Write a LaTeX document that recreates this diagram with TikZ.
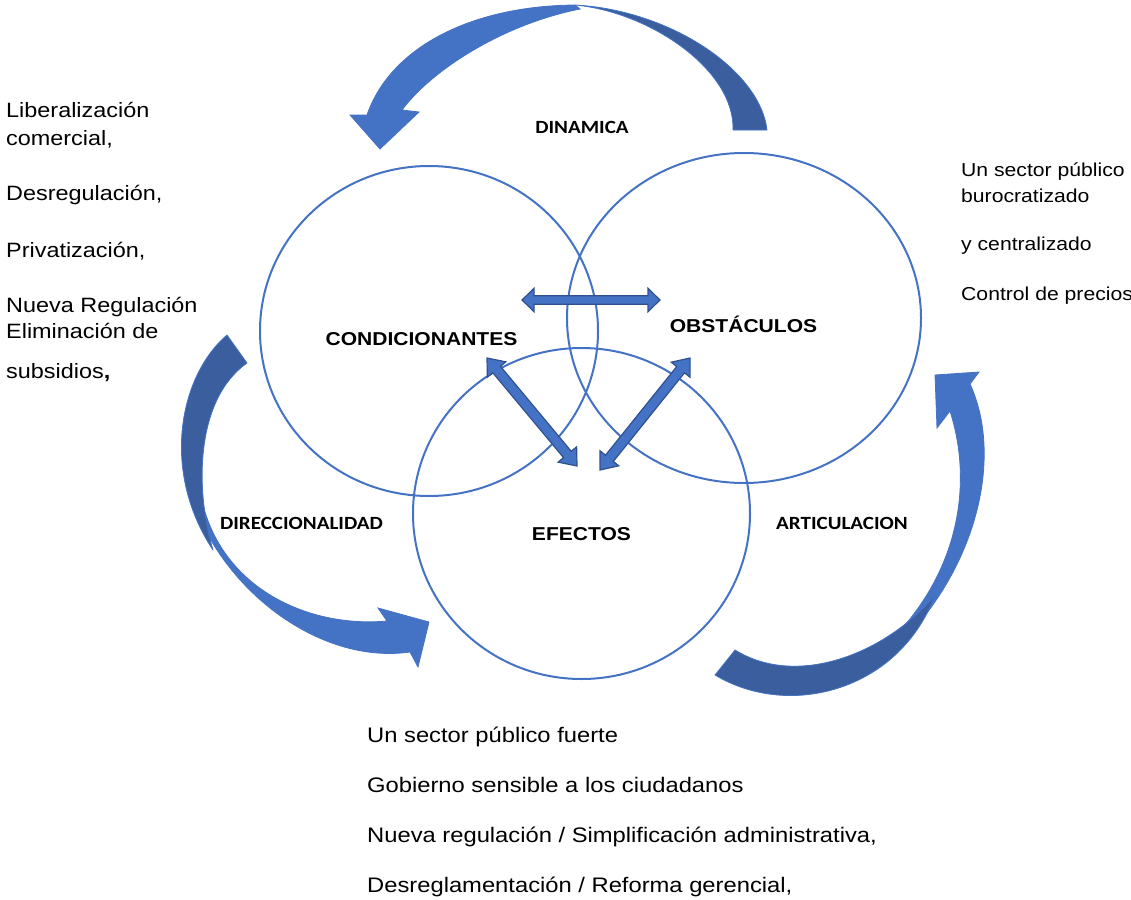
\documentclass[tikz,border=0pt]{standalone}
\usepackage{fontspec}
\setmainfont{Liberation Sans}[FakeStretch=1.13]
\newfontfamily\calib{Carlito}[FakeStretch=1.13]
\usetikzlibrary{calc,shapes.geometric}
\definecolor{mblue}{HTML}{4472C4}
\definecolor{dblue}{HTML}{3A5E9E}
\definecolor{eblue}{HTML}{2F528F}
\newcommand\dblarrow[5]{%
\filldraw[fill=mblue, draw=eblue, line width=1.2bp, line join=miter]
 (#1) -- ($(#1)!#3!(#2)!#5!90:(#2)$) -- ($(#1)!#3!(#2)!#4!90:(#2)$)
 -- ($(#2)!#3!(#1)!#4!-90:(#1)$) -- ($(#2)!#3!(#1)!#5!-90:(#1)$) -- (#2)
 -- ($(#2)!#3!(#1)!#5!90:(#1)$) -- ($(#2)!#3!(#1)!#4!90:(#1)$)
 -- ($(#1)!#3!(#2)!#4!-90:(#2)$) -- ($(#1)!#3!(#2)!#5!-90:(#2)$) -- cycle;}
\tikzset{
  ring/.style={draw=mblue, line width=2bp, ellipse, inner sep=0pt},
  lightarrow/.style={fill=mblue, draw=mblue, line width=0.8bp, line join=miter},
  darkarrow/.style={fill=dblue, draw=mblue, line width=0.8bp, line join=round},
  bigtitle/.style={anchor=base, inner sep=0pt, font=\bfseries\fontsize{18.7}{22}\selectfont},
  flowlabel/.style={anchor=base, inner sep=0pt, font=\calib\bfseries\fontsize{18.7}{22}\selectfont},
  lefttxt/.style={anchor=base west, inner sep=0pt, font=\fontsize{20.8}{25}\selectfont},
  righttxt/.style={anchor=base west, inner sep=0pt, font=\fontsize{18.8}{22}\selectfont},
  bottxt/.style={anchor=base west, inner sep=0pt, font=\fontsize{21.1}{25}\selectfont},
}
\begin{document}
\begin{tikzpicture}[x=1bp,y=-1bp]
\useasboundingbox (0,0) rectangle (1131,900);

% circles
\node[ring, minimum width=338bp, minimum height=330bp] (cond) at (429,331) {};
\node[ring, minimum width=354bp, minimum height=330bp] (obst) at (744,318) {};
\node[ring, minimum width=337bp, minimum height=331bp] (efec) at (581.5,513.5) {};

% top curved arrow (DINAMICA)
\path[lightarrow] (575,5) .. controls (470,6) and (390,48) .. (367,115)
  -- (350,115) -- (380,149) -- (419,112) -- (402,110)
  .. controls (430,72) and (500,25) .. (580,9) -- cycle;
\path[darkarrow] (767,130) .. controls (760,70) and (670,10) .. (575,5)
  .. controls (650,12) and (735,70) .. (733,130) -- cycle;

% left curved arrow (DIRECCIONALIDAD)
\path[lightarrow] (190,493) .. controls (220,590) and (320,665) .. (410,652)
  -- (418,667) -- (429,622) -- (378,608) -- (387,621)
  .. controls (310,628) and (225,590) .. (203,505) -- cycle;
\path[darkarrow] (227,335) .. controls (180,375) and (160,470) .. (213,550)
  .. controls (195,490) and (195,400) .. (247,363) -- cycle;

% right curved arrow (ARTICULACION)
\path[lightarrow] (883,660) .. controls (975,580) and (1005,460) .. (970,384)
  -- (979,372) -- (935,375) -- (937,428) -- (950,411)
  .. controls (972,480) and (960,560) .. (905,625) -- cycle;
\path[darkarrow] (715,675) .. controls (790,720) and (900,690) .. (935,595)
  .. controls (890,650) and (800,690) .. (735,650) -- cycle;

% double arrows
\coordinate (hA) at (522,300); \coordinate (hB) at (660,300);
\coordinate (lA) at (487,358); \coordinate (lB) at (577,466);
\coordinate (rA) at (690,358); \coordinate (rB) at (600,470);
\dblarrow{hA}{hB}{12bp}{4.3bp}{11.7bp}
\dblarrow{lA}{lB}{15bp}{5bp}{12bp}
\dblarrow{rA}{rB}{15bp}{5bp}{12bp}

% main labels
\node[bigtitle] (tc) at (421.5,345) {CONDICIONANTES};
\node[bigtitle] (to) at (743.5,332) {OBSTÁCULOS};
\node[bigtitle] (te) at (581.5,540) {EFECTOS};

% flow labels
\node[flowlabel] (fd) at (582,133) {DINAMICA};
\node[flowlabel] (fr) at (301.5,529) {DIRECCIONALIDAD};
\node[flowlabel] (fa) at (842,529) {ARTICULACION};

% left text
\node[lefttxt] (l1) at (6,117) {Liberalización};
\node[lefttxt] (l2) at (6,145) {comercial,};
\node[lefttxt] (l3) at (6,200) {Desregulación,};
\node[lefttxt] (l4) at (6,257) {Privatización,};
\node[lefttxt] (l5) at (6,312) {Nueva Regulación};
\node[lefttxt] (l6) at (6,338) {Eliminación de};
\node[lefttxt] (l7) at (6,378) {subsidios\textbf{,}};

% right text
\node[righttxt] (r1) at (961,176) {Un sector público};
\node[righttxt] (r2) at (961,202) {burocratizado};
\node[righttxt] (r3) at (961,250) {y centralizado};
\node[righttxt] (r4) at (961,300) {Control de precios};

% bottom text
\node[bottxt] (b1) at (367,742) {Un sector público fuerte};
\node[bottxt] (b2) at (367,792) {Gobierno sensible a los ciudadanos};
\node[bottxt] (b3) at (367,842) {Nueva regulación / Simplificación administrativa,};
\node[bottxt] (b4) at (367,892) {Desreglamentación / Reforma gerencial,};
\end{tikzpicture}
\end{document}
